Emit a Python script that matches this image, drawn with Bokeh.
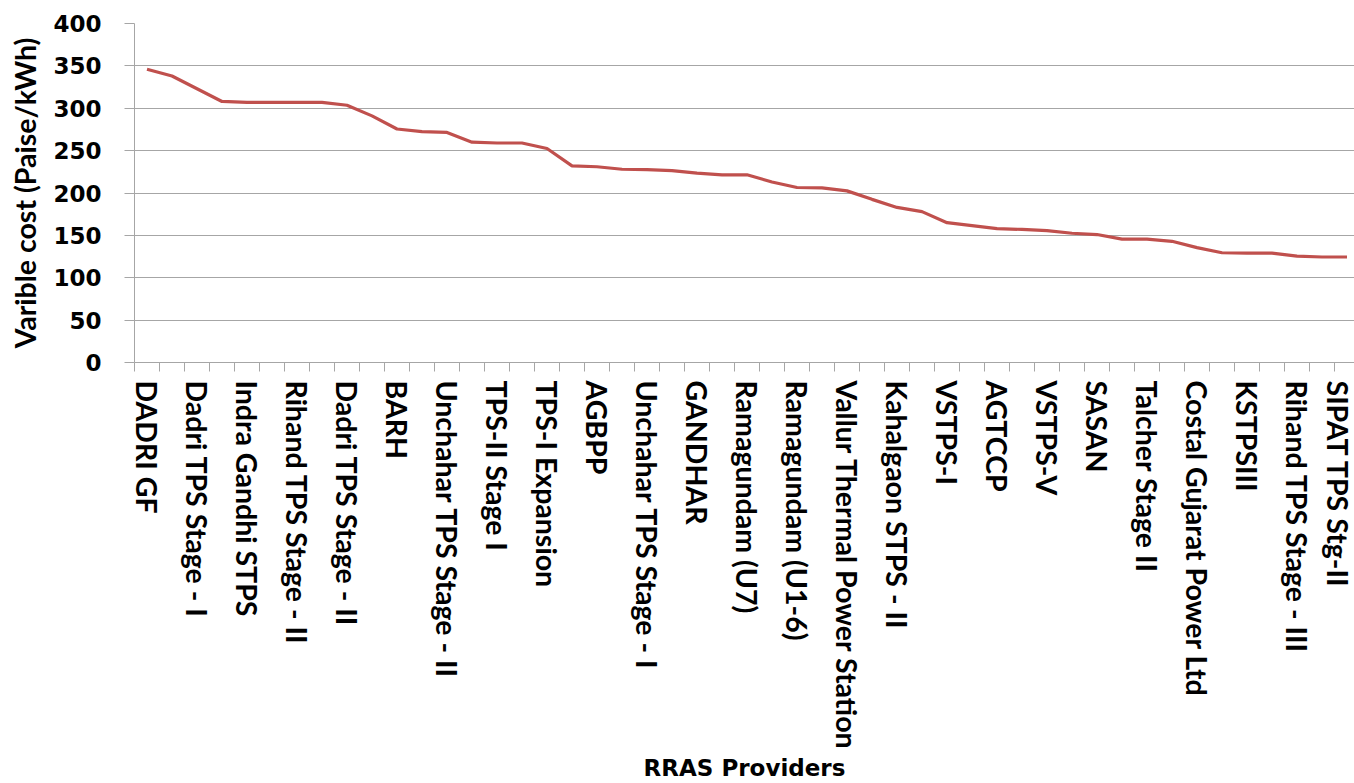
from bokeh.plotting import figure
from bokeh.models import Range1d, FixedTicker
from bokeh.embed import file_html
from bokeh.resources import INLINE

# Tick labels shown on the category axis (every other provider is labelled)
labels = [
    "DADRI GF", "Dadri TPS Stage - I", "Indra Gandhi STPS", "Rihand TPS Stage - II",
    "Dadri TPS Stage - II", "BARH", "Unchahar TPS Stage - II", "TPS-II Stage I",
    "TPS-I Expansion", "AGBPP", "Unchahar TPS Stage - I", "GANDHAR",
    "Ramagundam (U7)", "Ramagundam (U1-6)", "Vallur Thermal Power Station",
    "Kahalgaon STPS - II", "VSTPS-I", "AGTCCP", "VSTPS-V", "SASAN",
    "Talcher Stage II", "Costal Gujarat Power Ltd", "KSTPSIII",
    "Rihand TPS Stage - III", "SIPAT TPS Stg-II",
]

# Variable cost (Paise/kWh) for the 49 providers, in order
cost = [
    346, 338, 323, 308, 307, 307, 307, 307, 303.5, 291, 275.5, 272.5, 271.5,
    260, 259, 259, 252.5, 232, 231, 228, 227.5, 226.5, 223.5, 221.5, 221.5,
    213, 206.5, 206, 202.5, 192.5, 183, 178, 165, 161.5, 158, 157, 155.5,
    152.5, 151, 145.5, 145.5, 143, 135.5, 129.5, 129, 129, 125.5, 124.5, 124.5,
]

idx = list(range(len(cost)))
label_idx = list(range(0, len(cost), 2))

GRAY = "#a6a6a6"
ROT = "Lato"
WIDE = "DejaVu Sans"

p = figure(width=1354, height=783, output_backend="svg", toolbar_location=None,
           x_range=Range1d(-0.5, 48.3), y_range=Range1d(0, 400),
           min_border_left=134, min_border_right=0, min_border_top=23,
           min_border_bottom=420)
p.outline_line_color = None
p.background_fill_color = "white"

p.line(idx, cost, line_color="#c0504d", line_width=3.2)

# x axis
p.xaxis.ticker = FixedTicker(ticks=label_idx,
                             minor_ticks=[i - 0.5 for i in range(len(cost) + 1)])
p.xaxis.major_label_overrides = {i: lab for i, lab in zip(label_idx, labels)}
p.xaxis.major_label_orientation = "vertical"
p.xaxis.major_tick_out = 0
p.xaxis.major_tick_in = 0
p.xaxis.minor_tick_out = 9
p.xaxis.minor_tick_in = 0
p.xaxis.minor_tick_line_color = GRAY
p.xaxis.axis_line_color = GRAY
p.xaxis.major_label_standoff = 9
p.xaxis.major_label_text_font = ROT
p.xaxis.major_label_text_font_style = "bold"
p.xaxis.major_label_text_font_size = "28.5px"
p.xaxis.major_label_text_color = "black"
p.xaxis.axis_label = "RRAS Providers"
p.xaxis.axis_label_text_font = WIDE
p.xaxis.axis_label_text_font_style = "bold"
p.xaxis.axis_label_text_font_size = "23px"
p.xaxis.axis_label_text_color = "black"
p.xaxis.axis_label_standoff = 1

# y axis
p.yaxis.ticker = FixedTicker(ticks=[0, 50, 100, 150, 200, 250, 300, 350, 400])
p.yaxis.major_tick_out = 10
p.yaxis.major_tick_in = 0
p.yaxis.minor_tick_line_color = None
p.yaxis.major_tick_line_color = GRAY
p.yaxis.axis_line_color = GRAY
p.yaxis.major_label_standoff = 23
p.yaxis.major_label_text_font = WIDE
p.yaxis.major_label_text_font_style = "bold"
p.yaxis.major_label_text_font_size = "23px"
p.yaxis.major_label_text_color = "black"
p.yaxis.axis_label = "Varible cost (Paise/kWh)"
p.yaxis.axis_label_text_font = ROT
p.yaxis.axis_label_text_font_style = "bold"
p.yaxis.axis_label_text_font_size = "28.5px"
p.yaxis.axis_label_text_color = "black"
p.yaxis.axis_label_standoff = 8

p.xgrid.grid_line_color = None
p.ygrid.grid_line_color = GRAY
p.ygrid.grid_line_width = 1

open("out.html", "w").write(file_html(p, INLINE))
